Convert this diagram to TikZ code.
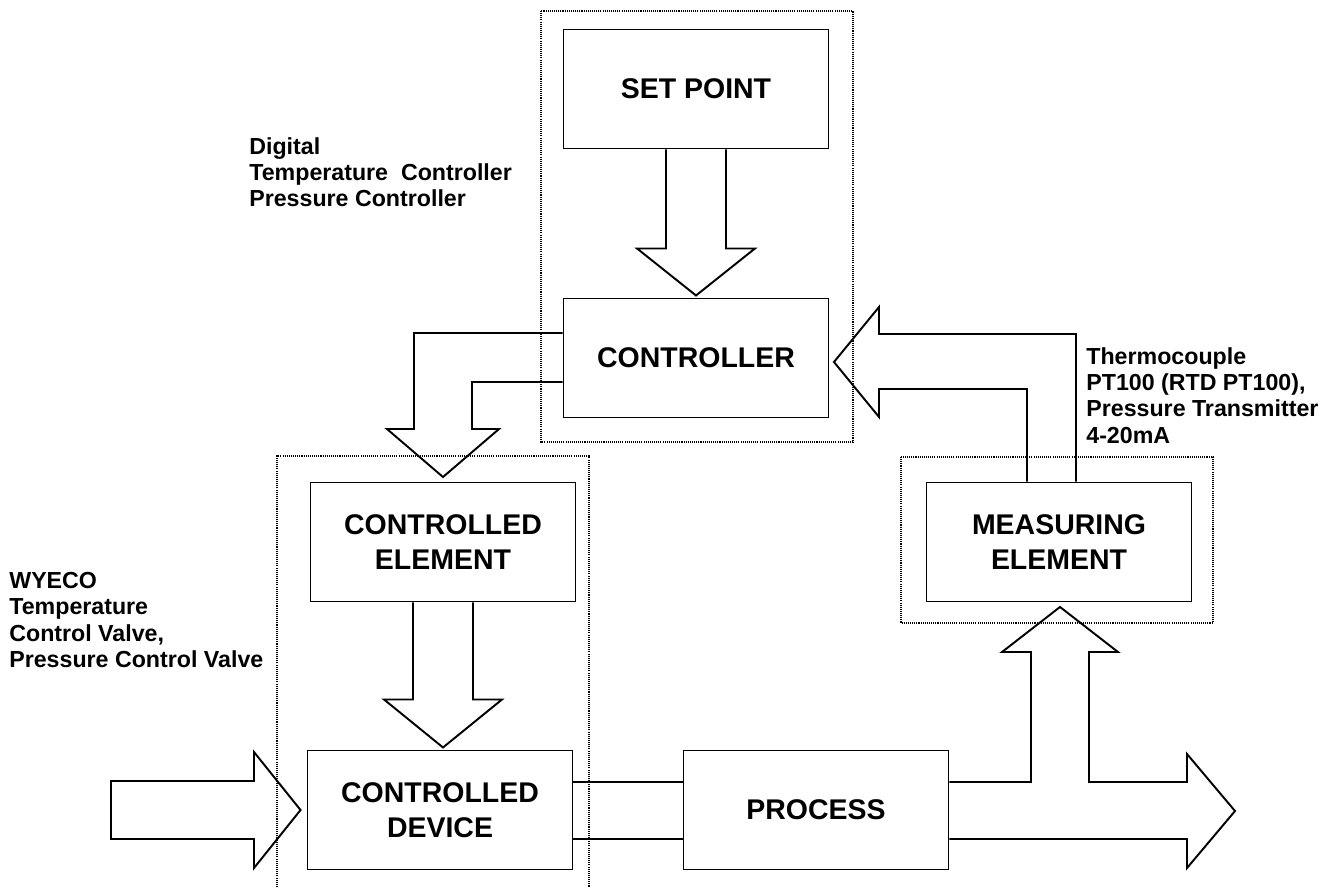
\documentclass[tikz,border=0pt]{standalone}
\usepackage{fontspec}
\setmainfont{Liberation Sans}
\tikzset{
  blk/.style  = {rectangle, draw=black, line width=1.1pt, fill=white,
                 minimum width=53mm, minimum height=23.8mm, inner sep=0pt,
                 font=\fontsize{16.2}{20}\selectfont\bfseries, align=center},
  grp/.style  = {draw=black, line width=0.6pt, dash pattern=on 0.6pt off 0.6pt},
  fat/.style  = {draw=black, line width=1.1pt, line join=miter},
  pipe/.style = {draw=black, line width=1.1pt},
  note/.style = {anchor=north west, inner sep=0pt, align=left,
                 font=\fontsize{13.2}{15}\selectfont\bfseries},
}

\begin{document}
\begin{tikzpicture}[x=0.2mm,y=-0.2mm]
  \useasboundingbox (0,0) rectangle (1343,887);

  % dotted groups
  \draw[grp] (541,11) rectangle (853,442);
  \draw[grp] (277,887) -- (277,456) -- (589,456) -- (589,887);
  \draw[grp] (901,457) rectangle (1213,623);

  \node[blk] (setpt) at (696,89)  {SET POINT};
  \node[blk] (ctrl)  at (696,358) {CONTROLLER};
  \node[blk] (celem) at (443,542) {CONTROLLED\\ELEMENT};
  \node[blk] (cdev)  at (440,810) {CONTROLLED\\DEVICE};
  \node[blk] (proc)  at (816,810) {PROCESS};
  \node[blk] (meas)  at (1059,542){MEASURING\\ELEMENT};

  % hollow arrows
  \draw[fat] ([xshift=-6mm]setpt.south) -- ++(0,99) -- ++(-29,0) -- ++(59,47)
    -- ++(59,-47) -- ++(-29,0) -- ([xshift=6mm]setpt.south);
  \draw[fat] ([yshift=5mm]ctrl.west) -- (414,333) -- (414,429) -- (387,429)
    -- (443,477) -- (499,429) -- (472,429) -- (472,382) -- ([yshift=-4.8mm]ctrl.west);
  \draw[fat] ([xshift=-6mm]celem.south) -- ++(0,97) -- ++(-29,0) -- ++(59,48)
    -- ++(59,-48) -- ++(-29,0) -- ([xshift=6mm]celem.south);
  \draw[fat] (111,781) -- (254,781) -- (254,752) -- ([xshift=-1.2mm]cdev.west)
    -- (254,868) -- (254,839) -- (111,839) -- cycle;

  \draw[pipe] ([yshift=5.6mm]cdev.east) -- ([yshift=5.6mm]proc.west);
  \draw[pipe] ([yshift=-5.8mm]cdev.east) -- ([yshift=-5.8mm]proc.west);

  \coordinate (out) at (1235,811);
  \draw[fat] ([yshift=5.6mm]proc.east) -- (1031,782) -- (1031,652) -- (1002,652)
    -- ([xshift=0.2mm,yshift=-0.9mm]meas.south) -- (1118,652) -- (1089,652)
    -- (1089,782) -- (1187,782) -- (1187,754) -- (out) -- (1187,868)
    -- (1187,839) -- ([yshift=-5.8mm]proc.east);
  \draw[fat] ([xshift=3.4mm]meas.north) -- (1076,334) -- (879,334) -- (879,307)
    -- ([xshift=0.9mm,yshift=-0.8mm]ctrl.east) -- (879,417) -- (879,389)
    -- (1027,389) -- ([xshift=-6.4mm]meas.north);

  \node[note] (ctrlnote)  at (249,137) {Digital\\Temperature\ \ Controller\\Pressure Controller};
  \node[note] (sensnote)  at (1086,347) {Thermocouple\\PT100 (RTD PT100),\\Pressure Transmitter\\4-20mA};
  \node[note] (valvenote) at (9,572) {WYECO\\Temperature\\Control Valve,\\Pressure Control Valve};
\end{tikzpicture}
\end{document}
